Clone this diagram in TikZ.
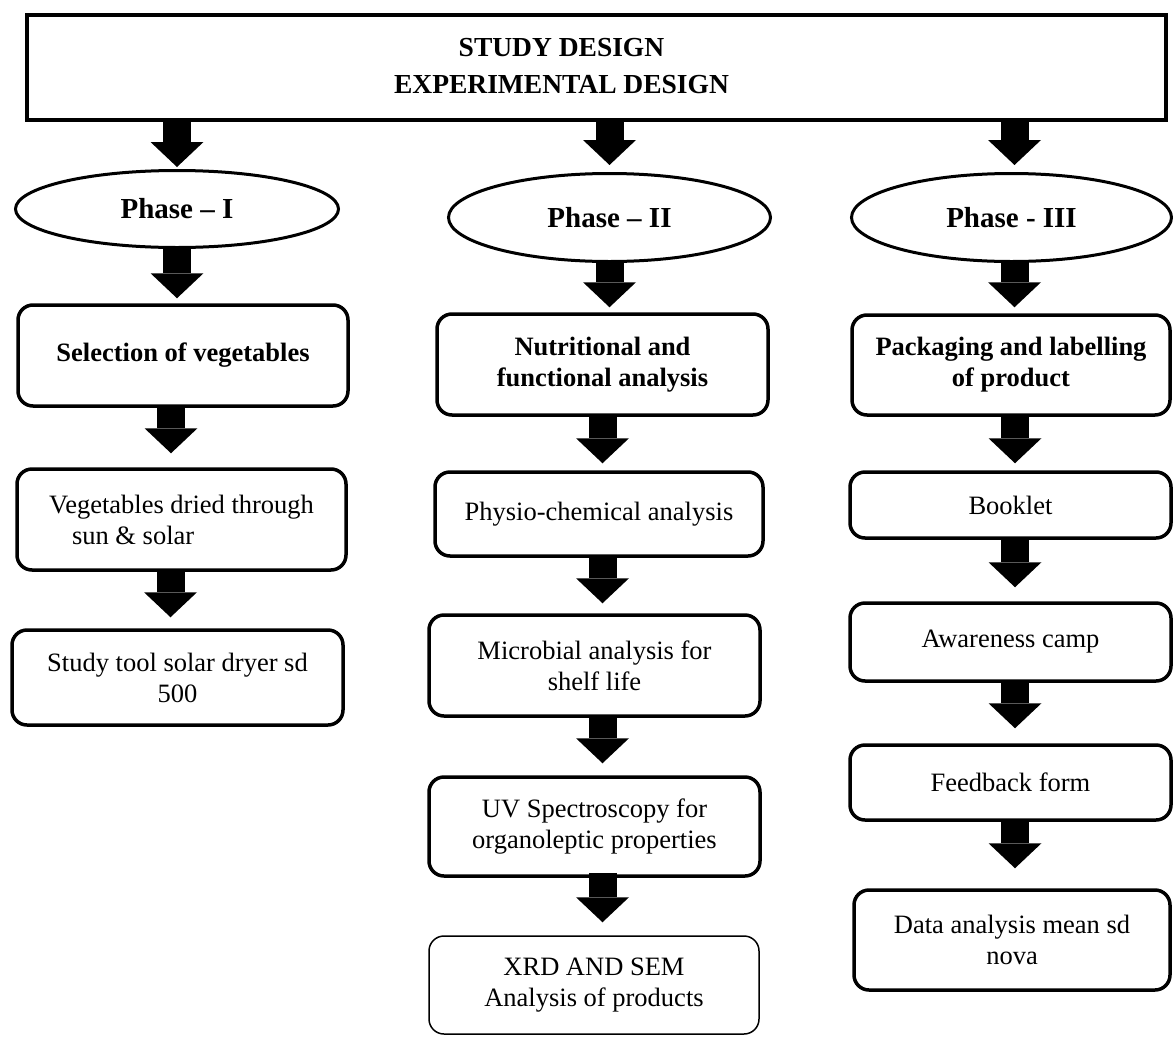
\documentclass[tikz,border=0pt]{standalone}
\usepackage{fontspec}
\setmainfont{Liberation Serif}
\usepackage{tikz}
\usetikzlibrary{shapes.geometric, arrows.meta, positioning, calc}
\tikzstyle{titlebox} = [rectangle, draw=black, line width=4pt, minimum width=1139pt, minimum height=105pt, align=center, font=\bfseries\fontsize{27.5}{37}\selectfont]
\tikzstyle{phase} = [ellipse, draw=black, line width=3pt, inner sep=0pt, font=\bfseries\fontsize{29}{34}\selectfont]
\tikzstyle{stepbox} = [rectangle, rounded corners=15pt, draw=black, line width=3.5pt, inner sep=0pt, align=center, font=\fontsize{26.5}{31}\selectfont]
\tikzstyle{boldbox} = [stepbox, font=\bfseries\fontsize{26.5}{31}\selectfont]
\tikzstyle{blockarrow} = [line width=28pt, -{Triangle[length=25pt, width=53pt, line width=0pt]}]

\begin{document}
\begin{tikzpicture}[x=1pt, y=-1pt]
        \useasboundingbox (0,0) rectangle (1173,1039);
        % Nodes
        \node (title) [titlebox] at (596.5,67.5) {\begin{tabular}{@{}c@{}}STUDY DESIGN\\EXPERIMENTAL DESIGN\end{tabular}\hspace*{70pt}};

        \node (ph1) [phase, minimum width=323pt, minimum height=77pt] at (177,209) {Phase – I};
        \node (ph2) [phase, minimum width=322pt, minimum height=88pt] at (609.5,217.5) {Phase – II};
        \node (ph3) [phase, minimum width=320pt, minimum height=88pt] at (1011.5,217.5) {Phase - III};

        % Phase I
        \node (select) [boldbox, minimum width=330pt, minimum height=101pt] at (183,355.5) {Selection of vegetables};
        \node (dried) [stepbox, minimum width=329pt, minimum height=101pt, align=left] at (181.5,519.5) {Vegetables dried through\\\hspace*{23pt}sun \& solar};
        \node (tool) [stepbox, minimum width=331pt, minimum height=95pt] at (177.5,677.5) {Study tool solar dryer sd\\500};

        % Phase II
        \node (nutri) [boldbox, minimum width=331pt, minimum height=101pt] at (602.5,364.5) {Nutritional and\\functional analysis};
        \node (physio) [stepbox, minimum width=328pt, minimum height=84pt] at (599,514) {Physio-chemical analysis};
        \node (micro) [stepbox, minimum width=331pt, minimum height=101pt] at (594.5,665.5) {Microbial analysis for\\shelf life};
        \node (uv) [stepbox, minimum width=331pt, minimum height=99pt] at (594.5,826.5) {UV Spectroscopy for\\organoleptic properties};
        \node (xrd) [stepbox, line width=1.5pt, minimum width=330pt, minimum height=98pt] at (594,985) {XRD AND SEM\\Analysis of products};

        % Phase III
        \node (pack) [boldbox, minimum width=318pt, minimum height=100pt] at (1011,365) {Packaging and labelling\\of product};
        \node (booklet) [stepbox, minimum width=321pt, minimum height=66pt] at (1010.5,505) {Booklet};
        \node (camp) [stepbox, minimum width=321pt, minimum height=78pt] at (1010.5,642) {Awareness camp};
        \node (feedback) [stepbox, minimum width=321pt, minimum height=75pt] at (1010.5,782.5) {Feedback form};
        \node (data) [stepbox, minimum width=316pt, minimum height=100pt] at (1012,940) {Data analysis mean sd\\nova};

        % Arrows
        \draw [blockarrow, shorten >=2pt] (title.south -| ph1) -- (ph1.north);
        \draw [blockarrow, shorten >=7pt] (title.south -| ph2) -- (ph2.north);
        \draw [blockarrow, shorten >=7pt] ([xshift=3pt]title.south -| ph3) -- ([xshift=3pt]ph3.north);

        \draw [blockarrow, shorten >=5pt] (ph1.south) -- (ph1.south |- select.north);
        \draw [blockarrow, shorten >=14pt] ([xshift=-12pt]select.south) -- ([xshift=-12pt]select.south |- dried.north);
        \draw [blockarrow, shorten >=11pt] ([xshift=-11pt]dried.south) -- ([xshift=-7pt]tool.north);

        \draw [blockarrow, shorten >=5pt] (ph2.south) -- (ph2.south |- nutri.north);
        \draw [blockarrow, shorten >=7pt] (nutri.south) -- (nutri.south |- physio.north);
        \draw [blockarrow, shorten >=10pt] (physio.south -| nutri) -- (micro.north -| nutri);
        \draw [blockarrow, shorten >=12pt] (micro.south -| nutri) -- (uv.north -| nutri);
        \draw [blockarrow, shorten >=13pt] ([yshift=5pt]uv.south -| nutri) -- (xrd.north -| nutri);

        \draw [blockarrow, shorten >=6pt] ([xshift=3pt]ph3.south) -- ([xshift=3pt]ph3.south |- pack.north);
        \draw [blockarrow, shorten >=7pt] ([xshift=4pt]pack.south) -- ([xshift=4pt]pack.south |- booklet.north);
        \draw [blockarrow, shorten >=14pt] ([xshift=4pt]booklet.south -| pack) -- ([xshift=4pt]camp.north -| pack);
        \draw [blockarrow, shorten >=15pt] ([xshift=4pt]camp.south -| pack) -- ([xshift=4pt]feedback.north -| pack);
        \draw [blockarrow, shorten >=20pt] ([xshift=4pt]feedback.south -| pack) -- ([xshift=4pt]data.north -| pack);
    \end{tikzpicture}
\end{document}
